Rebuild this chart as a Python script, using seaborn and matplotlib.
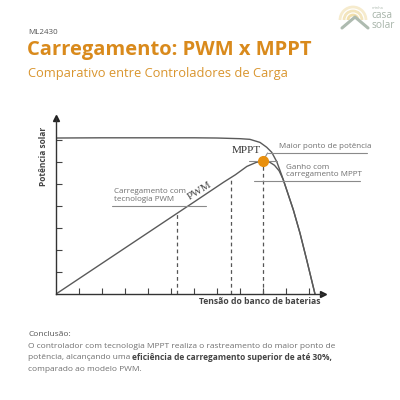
import matplotlib
matplotlib.use("Agg")
import matplotlib.pyplot as plt
import seaborn as sns
import pandas as pd
import numpy as np
from matplotlib.patches import Arc

sns.set_theme(style="white")
plt.rcParams['font.family'] = ['Open Sans', 'DejaVu Sans']

# --- data (axis units: 1 tick = 1 unit) ---
iv_x = [0, 2, 4, 6, 7, 8, 8.43, 8.87, 9.16, 9.38, 9.60, 9.81, 10.03, 10.32, 10.61, 10.90, 11.26]
iv_y = [7.09, 7.10, 7.10, 7.10, 7.09, 7.06, 7.03, 6.89, 6.67, 6.44, 6.01, 5.41, 4.73, 3.82, 2.76, 1.55, 0]
p_x = [0, 3, 6, 7.3, 7.8, 8.3, 8.7, 9.0, 9.25, 9.5, 9.7, 9.88, 10.03, 10.32, 10.61, 10.90, 11.26]
p_y = [0, 2.09, 4.18, 5.09, 5.42, 5.80, 5.98, 6.06, 6.02, 5.85, 5.60, 5.20, 4.73, 3.82, 2.76, 1.55, 0]
dash_x = [5.27, 7.6, 9.0]
dash_y = [3.67, 5.30, 6.06]
mpp_x, mpp_y = 9.0, 6.06
x_ticks = list(range(1, 12))
y_ticks = list(range(1, 8))

W, H = 400, 400
fig = plt.figure(figsize=(4, 4), dpi=100)
fig.patch.set_facecolor("white")

# main axes: origin at pixel (56,294), 23 px per x unit, 22 px per y unit
x0, y0 = 56, 294
xmax, ymax = 11.6, 8.0
ax = fig.add_axes([x0 / W, (H - y0) / H, xmax * 23 / W, ymax * 22 / H])
ax.set_xlim(0, xmax)
ax.set_ylim(0, ymax)
ax.set_facecolor("none")

line_c = "#5a5a5a"
df_iv = pd.DataFrame({"x": iv_x, "y": iv_y})
df_p = pd.DataFrame({"x": p_x, "y": p_y})
sns.lineplot(data=df_iv, x="x", y="y", sort=False, estimator=None, color=line_c, lw=1.0, ax=ax)
sns.lineplot(data=df_p, x="x", y="y", sort=False, estimator=None, color=line_c, lw=1.0, ax=ax)

for dx, dy in zip(dash_x, dash_y):
    ax.plot([dx, dx], [0, dy], ls=(0, (3, 2.5)), color="#555555", lw=0.9)

# axes styling
for s in ["top", "right"]:
    ax.spines[s].set_visible(False)
for s in ["left", "bottom"]:
    ax.spines[s].set_color("#333333")
    ax.spines[s].set_linewidth(1.0)
ax.set_xticks(x_ticks)
ax.set_yticks(y_ticks)
ax.tick_params(direction="in", length=4, width=0.8, color="#444444",
               labelbottom=False, labelleft=False, bottom=True, left=True)
ax.set_xlabel("")
ax.set_ylabel("")
# arrow heads
ax.plot([xmax], [0], marker=">", ms=5, color="#222222", clip_on=False)
ax.plot([0], [ymax], marker="^", ms=5, color="#222222", clip_on=False)

# annotation lines
ann_c = "#8a8a8a"
ax.plot([2.43, 6.5], [4.0, 4.0], color=ann_c, lw=0.8)
ax.plot([9.2, 13.5], [6.41, 6.41], color=ann_c, lw=0.8, clip_on=False)
ax.plot([mpp_x, 9.2], [mpp_y, 6.41], color=ann_c, lw=0.8)
ax.plot([8.6, 13.2], [5.14, 5.14], color=ann_c, lw=0.8, clip_on=False)
ax.plot([8.4, 9.6], [mpp_y, mpp_y], color=ann_c, lw=0.8)

ax.plot([mpp_x], [mpp_y], marker="o", ms=7, color="#E8900F", zorder=5)

txt_c = "#6f6f6f"
ax.text(2.5, 4.15, "Carregamento com\ntecnologia PWM", fontsize=5.8, color=txt_c,
        ha="left", va="bottom", linespacing=1.05)
ax.text(9.7, 6.55, "Maior ponto de potência", fontsize=5.8, color=txt_c, ha="left", va="bottom")
ax.text(10.0, 5.28, "Ganho com\ncarregamento MPPT", fontsize=5.8, color=txt_c,
        ha="left", va="bottom", linespacing=1.05)
ax.text(6.25, 4.7, "PWM", fontsize=8, family="Liberation Serif", color="#444444",
        rotation=32, ha="center", va="center", rotation_mode="anchor")
ax.text(8.92, 6.3, "MPPT", fontsize=8, family="Liberation Serif", color="#333333",
        ha="right", va="bottom")

# axis labels
fig.text(44 / W, 1 - 156 / H, "Potência solar", rotation=90, fontsize=6.0, weight="bold",
         color="#444444", ha="center", va="center")
fig.text(260 / W, 1 - 302 / H, "Tensão do banco de baterias", fontsize=6.2, weight="bold",
         color="#444444", ha="center", va="center")

# header
fig.text(28 / W, 1 - 32 / H, "ML2430", fontsize=5.8, color="#555555", ha="left", va="center")
fig.text(27 / W, 1 - 50 / H, "Carregamento: PWM x MPPT", fontsize=14.5, weight="bold",
         color="#D98A1C", ha="left", va="center")
fig.text(28 / W, 1 - 73 / H, "Comparativo entre Controladores de Carga", fontsize=9.3,
         color="#D9952E", ha="left", va="center")

# logo
lax = fig.add_axes([338 / W, 1 - 34 / H, 62 / W, 30 / H])
lax.set_xlim(0, 62)
lax.set_ylim(0, 30)
lax.axis("off")
for r, c in [(5, "#F1DFAC"), (9, "#F3E5BD"), (13, "#F6EBCD")]:
    lax.add_patch(Arc((15, 14), 2 * r, 2 * r, theta1=0, theta2=180, color=c, lw=2))
lax.plot([4, 17, 30], [6, 17, 6], color="#AEBBB0", lw=2.2, solid_capstyle="round")
lax.text(34, 26, "minha", fontsize=2.8, color="#AEBBB0", ha="left", va="center")
lax.text(33.5, 18, "casa", fontsize=7.3, color="#A6B3A8", ha="left", va="center")
lax.text(33.5, 8.5, "solar", fontsize=7.3, color="#A6B3A8", ha="left", va="center")

# conclusion
conc_c = "#707070"
fs = 6.0
fig.text(28 / W, 1 - 334 / H, "Conclusão:", fontsize=fs, color="#555555", ha="left", va="center",
         weight="medium")
fig.text(28 / W, 1 - 346 / H,
         "O controlador com tecnologia MPPT realiza o rastreamento do maior ponto de",
         fontsize=fs, color=conc_c, ha="left", va="center")
t2 = fig.text(28 / W, 1 - 357.5 / H, "potência, alcançando uma ", fontsize=fs, color=conc_c,
              ha="left", va="center")
fig.canvas.draw()
bb = t2.get_window_extent(renderer=fig.canvas.get_renderer())
fig.text(bb.x1 / W, 1 - 357.5 / H, "eficiência de carregamento superior de até 30%,",
         fontsize=fs, color="#444444", weight="bold", ha="left", va="center")
fig.text(28 / W, 1 - 369.5 / H, "comparado ao modelo PWM.", fontsize=fs, color=conc_c,
         ha="left", va="center")

fig.savefig("out.png", dpi=100, facecolor="white")
